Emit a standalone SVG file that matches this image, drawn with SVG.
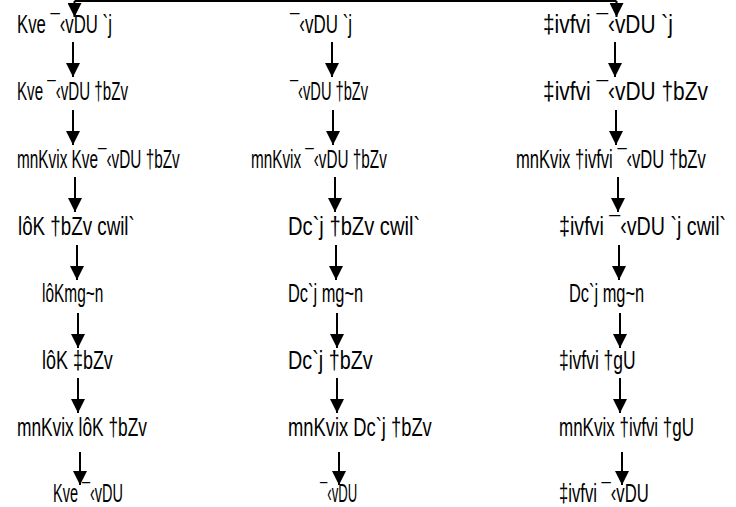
<svg xmlns="http://www.w3.org/2000/svg" width="736" height="507" viewBox="0 0 736 507">
<style>
text{font-family:"Liberation Sans","DejaVu Sans",sans-serif;font-size:25px;fill:#000}
.c{fill:none;stroke:#000;stroke-width:2}
</style>
<defs>
<marker id="ah" markerUnits="userSpaceOnUse" markerWidth="14" markerHeight="14" refX="14" refY="7" orient="auto">
<path d="M0,0 L14,7 L0,14 z" fill="#000"/>
</marker>
</defs>
<rect width="736" height="507" fill="#fff"/>
<g id="connectors">
<path class="c" d="M74.5 1 H616.5"/>
<path class="c" d="M74.5 1 V17" marker-end="url(#ah)"/>
<path class="c" d="M616.5 1 V17" marker-end="url(#ah)"/>
<path class="c" d="M73 42 V77" marker-end="url(#ah)"/>
<path class="c" d="M73 110 V145" marker-end="url(#ah)"/>
<path class="c" d="M75 177 V212" marker-end="url(#ah)"/>
<path class="c" d="M77 245 V280" marker-end="url(#ah)"/>
<path class="c" d="M78 313 V348" marker-end="url(#ah)"/>
<path class="c" d="M78 378 V413" marker-end="url(#ah)"/>
<path class="c" d="M80 452 V485" marker-end="url(#ah)"/>
<path class="c" d="M332 42 V77" marker-end="url(#ah)"/>
<path class="c" d="M333 110 V145" marker-end="url(#ah)"/>
<path class="c" d="M335 177 V212" marker-end="url(#ah)"/>
<path class="c" d="M336 245 V280" marker-end="url(#ah)"/>
<path class="c" d="M337 313 V348" marker-end="url(#ah)"/>
<path class="c" d="M337 378 V413" marker-end="url(#ah)"/>
<path class="c" d="M339 452 V485" marker-end="url(#ah)"/>
<path class="c" d="M615 42 V77" marker-end="url(#ah)"/>
<path class="c" d="M616 110 V145" marker-end="url(#ah)"/>
<path class="c" d="M618 177 V212" marker-end="url(#ah)"/>
<path class="c" d="M619 245 V280" marker-end="url(#ah)"/>
<path class="c" d="M620 313 V348" marker-end="url(#ah)"/>
<path class="c" d="M620 378 V413" marker-end="url(#ah)"/>
<path class="c" d="M622 452 V485" marker-end="url(#ah)"/>
</g>
<g id="n1"><text transform="translate(17 33) scale(.73 1)" textLength="130" lengthAdjust="spacingAndGlyphs">Kve ¯‹vDU `j</text></g>
<g id="n2"><text transform="translate(17 100) scale(.73 1)" textLength="152" lengthAdjust="spacingAndGlyphs">Kve ¯‹vDU †bZv</text></g>
<g id="n3"><text transform="translate(17 168) scale(.73 1)" textLength="223" lengthAdjust="spacingAndGlyphs">mnKvix Kve¯‹vDU †bZv</text></g>
<g id="n4"><text transform="translate(18 235) scale(.73 1)" textLength="160" lengthAdjust="spacingAndGlyphs">lôK †bZv cwil`</text></g>
<g id="n5"><text transform="translate(42 302) scale(.73 1)" textLength="84" lengthAdjust="spacingAndGlyphs">lôKmg~n</text></g>
<g id="n6"><text transform="translate(42 369) scale(.73 1)" textLength="97" lengthAdjust="spacingAndGlyphs">lôK ‡bZv</text></g>
<g id="n7"><text transform="translate(17 436) scale(.73 1)" textLength="178" lengthAdjust="spacingAndGlyphs">mnKvix lôK †bZv</text></g>
<g id="n8"><text transform="translate(53 502) scale(.73 1)" textLength="96" lengthAdjust="spacingAndGlyphs">Kve ¯‹vDU</text></g>
<g id="s1"><text transform="translate(290 33) scale(.73 1)" textLength="85" lengthAdjust="spacingAndGlyphs">¯‹vDU `j</text></g>
<g id="s2"><text transform="translate(290 100) scale(.73 1)" textLength="107" lengthAdjust="spacingAndGlyphs">¯‹vDU †bZv</text></g>
<g id="s3"><text transform="translate(251 168) scale(.73 1)" textLength="186" lengthAdjust="spacingAndGlyphs">mnKvix ¯‹vDU †bZv</text></g>
<g id="s4"><text transform="translate(288 235) scale(.73 1)" textLength="181" lengthAdjust="spacingAndGlyphs">Dc`j †bZv cwil`</text></g>
<g id="s5"><text transform="translate(288 302) scale(.73 1)" textLength="103" lengthAdjust="spacingAndGlyphs">Dc`j mg~n</text></g>
<g id="s6"><text transform="translate(288 369) scale(.73 1)" textLength="116" lengthAdjust="spacingAndGlyphs">Dc`j †bZv</text></g>
<g id="s7"><text transform="translate(288 436) scale(.73 1)" textLength="197" lengthAdjust="spacingAndGlyphs">mnKvix Dc`j †bZv</text></g>
<g id="s8"><text transform="translate(320 502) scale(.73 1)" textLength="51" lengthAdjust="spacingAndGlyphs">¯‹vDU</text></g>
<g id="r1"><text transform="translate(543 33) scale(.73 1)" textLength="178" lengthAdjust="spacingAndGlyphs">‡ivfvi ¯‹vDU `j</text></g>
<g id="r2"><text transform="translate(543 100) scale(.73 1)" textLength="226" lengthAdjust="spacingAndGlyphs">‡ivfvi ¯‹vDU †bZv</text></g>
<g id="r3"><text transform="translate(516 168) scale(.73 1)" textLength="260" lengthAdjust="spacingAndGlyphs">mnKvix †ivfvi ¯‹vDU †bZv</text></g>
<g id="r4"><text transform="translate(559 235) scale(.73 1)" textLength="229" lengthAdjust="spacingAndGlyphs">‡ivfvi ¯‹vDU `j cwil`</text></g>
<g id="r5"><text transform="translate(569 302) scale(.73 1)" textLength="103" lengthAdjust="spacingAndGlyphs">Dc`j mg~n</text></g>
<g id="r6"><text transform="translate(559 369) scale(.73 1)" textLength="105" lengthAdjust="spacingAndGlyphs">‡ivfvi †gU</text></g>
<g id="r7"><text transform="translate(559 436) scale(.73 1)" textLength="185" lengthAdjust="spacingAndGlyphs">mnKvix †ivfvi †gU</text></g>
<g id="r8"><text transform="translate(559 502) scale(.73 1)" textLength="123" lengthAdjust="spacingAndGlyphs">‡ivfvi ¯‹vDU</text></g>
</svg>
